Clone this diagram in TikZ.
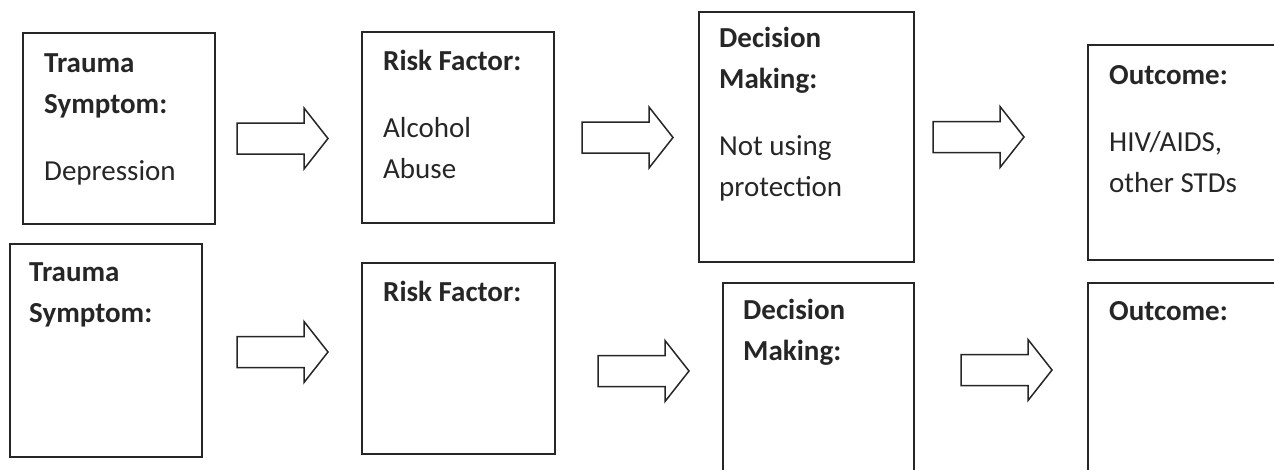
\documentclass[tikz,border=0pt]{standalone}
\usepackage{fontspec}
\setmainfont{Carlito}
\usetikzlibrary{positioning}

\colorlet{ink}{black!85}

\tikzset{
    box/.style={draw=ink, line width=1.7pt, inner sep=0pt, anchor=north west},
    txt/.style={text=ink, inner sep=0pt, anchor=base west, align=left,
        font=\fontsize{29}{41}\selectfont},
    arrowline/.style={draw=ink, line width=1.5pt, line join=miter}
}

\newcommand{\fatarrow}[1]{
    \draw[arrowline] (#1) ++(0,-15.5) -- ++(67,0) -- ++(0,-15) -- ++(24,30.5)
        -- ++(-24,30.5) -- ++(0,-15) -- ++(-67,0) -- cycle;
}

\begin{document}
\begin{tikzpicture}[x=1pt, y=-1pt]
    \useasboundingbox (0,0) rectangle (1274,469);

    \node[box, minimum width=192pt, minimum height=191pt] (ts1) at (22,32) {};
    \node[txt] (ts1t) at (44,180) {\textbf{Trauma}\\\textbf{Symptom:}\\[26pt]Depression};

    \node[box, minimum width=192pt, minimum height=191pt] (rf1) at (361,31) {};
    \node[txt] (rf1t) at (383,178) {\textbf{Risk Factor:}\\[26pt]Alcohol\\Abuse};

    \node[box, minimum width=215pt, minimum height=250pt] (dm1) at (698,11) {};
    \node[txt] (dm1t) at (719,196) {\textbf{Decision}\\\textbf{Making:}\\[26pt]Not using\\protection};

    \node[box, minimum width=203pt, minimum height=215pt] (oc1) at (1087,44) {};
    \node[txt] (oc1t) at (1109,192) {\textbf{Outcome:}\\[26pt]HIV/AIDS,\\other STDs};

    \node[box, minimum width=192pt, minimum height=213pt] (ts2) at (9,243) {};
    \node[txt] (ts2t) at (29,322) {\textbf{Trauma}\\\textbf{Symptom:}};

    \node[box, minimum width=193pt, minimum height=191pt] (rf2) at (361,262) {};
    \node[txt] (rf2t) at (383,301) {\textbf{Risk Factor:}};

    \node[box, minimum width=191pt, minimum height=200pt] (dm2) at (722,282) {};
    \node[txt] (dm2t) at (743,360) {\textbf{Decision}\\\textbf{Making:}};

    \node[box, minimum width=203pt, minimum height=200pt] (oc2) at (1087,282) {};
    \node[txt] (oc2t) at (1109,320) {\textbf{Outcome:}};

    \fatarrow{237,138.5}
    \fatarrow{582,137.5}
    \fatarrow{933,137}
    \fatarrow{237,352}
    \fatarrow{598,371}
    \fatarrow{961,370}
\end{tikzpicture}
\end{document}
